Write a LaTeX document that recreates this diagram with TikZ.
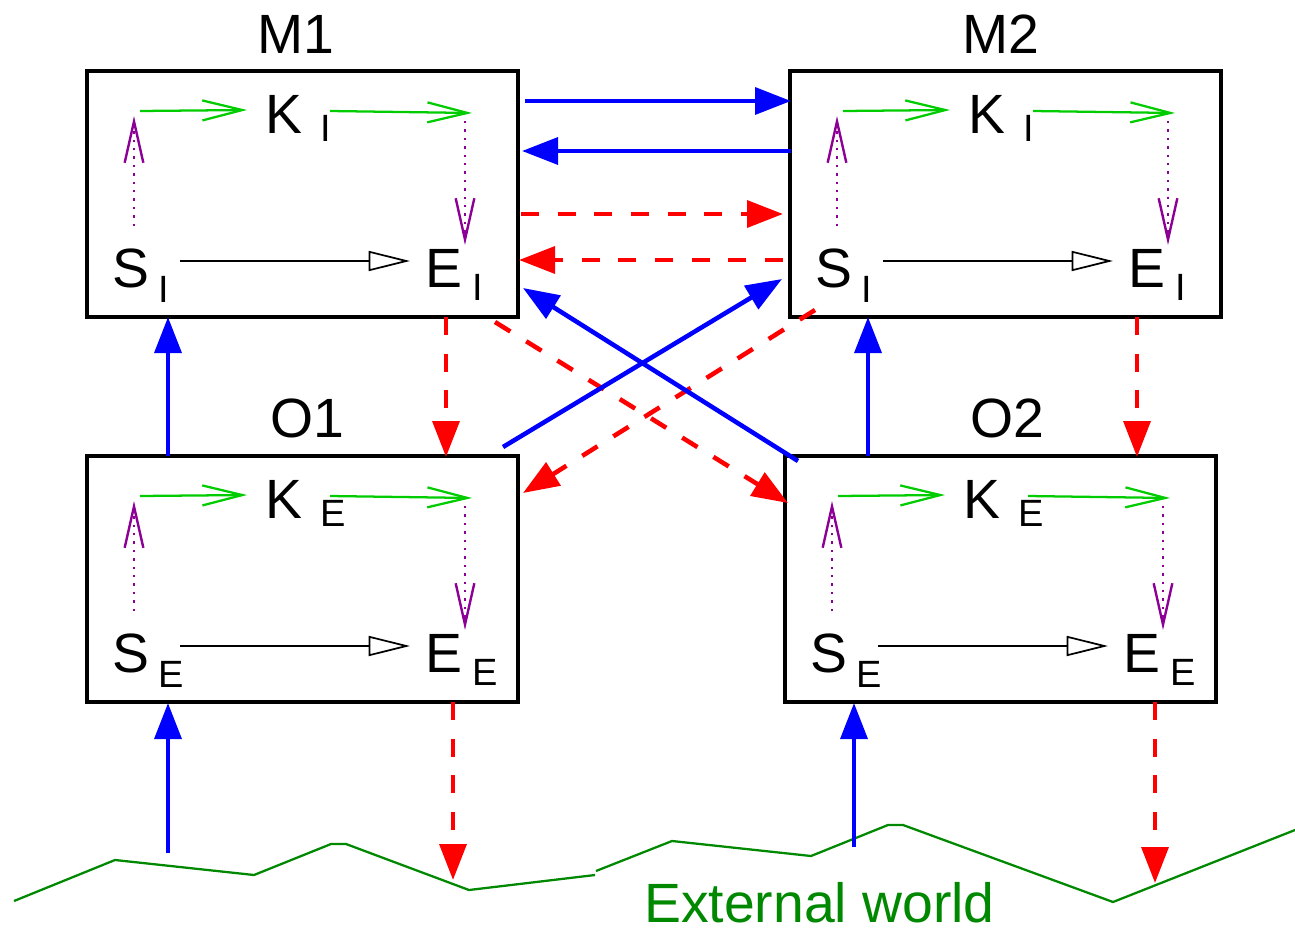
\documentclass[tikz,border=0pt]{standalone}
\usepackage{fontspec}
\setmainfont{Liberation Sans}
\usetikzlibrary{arrows.meta}
\definecolor{ggreen}{RGB}{0,204,0}
\definecolor{dgreen}{RGB}{0,136,0}
\definecolor{ppurple}{RGB}{140,0,150}
\tikzset{
  boxst/.style={draw, line width=3pt, minimum width=323.25pt, minimum height=184.5pt, inner sep=0pt},
  titlest/.style={anchor=base, inner sep=0pt, font=\fontsize{41.5pt}{48pt}\selectfont},
  mainst/.style={anchor=base west, inner sep=0pt, font=\fontsize{41.5pt}{48pt}\selectfont},
  subst/.style={anchor=base west, inner sep=0pt, font=\fontsize{28.5pt}{34pt}\selectfont},
  bluearr/.style={draw=blue, line width=3.4pt, -{Triangle[length=27pt,width=20pt]}},
  redarr/.style={draw=red, line width=3.4pt, dash pattern=on 13.5pt off 14pt, -{Triangle[length=27pt,width=20pt]}},
  greenarr/.style={draw=ggreen, line width=1.7pt, -{Straight Barb[length=30pt,width=15pt]}},
  purplearr/.style={draw=ppurple, line width=1.8pt, dash pattern=on 1.8pt off 4.5pt, -{Straight Barb[length=31pt,width=14pt]}},
  blackarr/.style={draw=black, line width=1.3pt, -{Triangle[open,length=31pt,width=15pt]}},
  groundst/.style={draw=dgreen, line width=1.7pt},
}
\newcommand\innerparts[4]{%
  \node[mainst] (#1K) at (#2+178,#3+62) {K};
  \node[subst] (#1Ks) at (#2+233,#3+70) {#4};
  \node[mainst] (#1S) at (#2+25,#3+216) {S};
  \node[subst] (#1Ss) at (#2+71,#3+231) {#4};
  \node[mainst] (#1E) at (#2+338,#3+216) {E};
  \node[subst] (#1Es) at (#2+385,#3+229) {#4};
  \coordinate (#1g1a) at (#2+53,#3+40);
  \coordinate (#1g1b) at (#2+160,#3+39);
  \coordinate (#1g2a) at (#2+243,#3+40);
  \coordinate (#1g2b) at (#2+385,#3+42);
  \coordinate (#1pua) at (#2+47,#3+155);
  \coordinate (#1pub) at (#2+47,#3+45);
  \coordinate (#1pda) at (#2+378,#3+50);
  \coordinate (#1pdb) at (#2+378,#3+174);
  \coordinate (#1ba) at (#2+93,#3+190);
  \coordinate (#1bb) at (#2+323,#3+190);
  \draw[greenarr] (#1g1a) -- (#1g1b);
  \draw[greenarr] (#1g2a) -- (#1g2b);
  \draw[purplearr] (#1pua) -- (#1pub);
  \draw[purplearr] (#1pda) -- (#1pdb);
  \draw[blackarr] (#1ba) -- (#1bb);
}
\begin{document}
\begin{tikzpicture}[x=0.75pt,y=-0.75pt]
\useasboundingbox (0,0) rectangle (1295,928);

% boxes
\node[boxst] (M1) at (302.5,194) {};
\node[boxst] (M2) at (1005,194) {};
\node[boxst] (O1) at (302.5,579) {};
\node[boxst] (O2) at (1000.5,579) {};

% titles
\node[titlest] (M1t) at (296,53) {M1};
\node[titlest] (M2t) at (1001,53) {M2};
\node[titlest] (O1t) at (307,437) {O1};
\node[titlest] (O2t) at (1007,437) {O2};

% inner contents
\innerparts{m1}{87}{71}{I}
\innerparts{m2}{790}{71}{I}
\innerparts{o1}{87}{456}{E}
\innerparts{o2}{785}{456}{E}

% connector end points
\coordinate (h1a) at (525,101);  \coordinate (h1b) at (791,101);
\coordinate (h2a) at (791,151);  \coordinate (h2b) at (522,151);
\coordinate (h3a) at (521,214);  \coordinate (h3b) at (783,214);
\coordinate (h4a) at (783,260);  \coordinate (h4b) at (519,260);
\coordinate (v1a) at (168,456);  \coordinate (v1b) at (168,317);
\coordinate (v2a) at (446,317);  \coordinate (v2b) at (446,457);
\coordinate (v3a) at (868,456);  \coordinate (v3b) at (868,317);
\coordinate (v4a) at (1137,317); \coordinate (v4b) at (1137,457);
\coordinate (x1a) at (503,447);  \coordinate (x1b) at (782,279);
\coordinate (x2a) at (798,461);  \coordinate (x2b) at (523,288);
\coordinate (x3a) at (495,322);  \coordinate (x3b) at (788,503);
\coordinate (x4a) at (815,310);  \coordinate (x4b) at (523,493);
\coordinate (b1a) at (168,853);  \coordinate (b1b) at (168,703);
\coordinate (b2a) at (854,847);  \coordinate (b2b) at (854,703);
\coordinate (r1a) at (453,702);  \coordinate (r1b) at (453,880);
\coordinate (r2a) at (1155,702); \coordinate (r2b) at (1155,883);

% ground
\draw[groundst] (14,901) -- (115,860) -- (254,875) -- (331,844) -- (346,844) -- (469,890) -- (595,875);
\draw[groundst] (596,871) -- (672,841) -- (811,856) -- (888,825) -- (903,825) -- (1113,902) -- (1295,830);
\node[anchor=base west, inner sep=0pt, text=dgreen, font=\fontsize{41.5pt}{48pt}\selectfont] (ext) at (644,922) {External world};

% connectors
\draw[bluearr] (h1a) -- (h1b);
\draw[bluearr] (h2a) -- (h2b);
\draw[redarr] (h3a) -- (h3b);
\draw[redarr] (h4a) -- (h4b);
\draw[bluearr] (v1a) -- (v1b);
\draw[redarr] (v2a) -- (v2b);
\draw[bluearr] (v3a) -- (v3b);
\draw[redarr] (v4a) -- (v4b);
\draw[redarr] (x3a) -- (x3b);
\draw[redarr] (x4a) -- (x4b);
\draw[bluearr] (x1a) -- (x1b);
\draw[bluearr] (x2a) -- (x2b);
\draw[bluearr] (b1a) -- (b1b);
\draw[bluearr] (b2a) -- (b2b);
\draw[redarr] (r1a) -- (r1b);
\draw[redarr] (r2a) -- (r2b);
\end{tikzpicture}
\end{document}
